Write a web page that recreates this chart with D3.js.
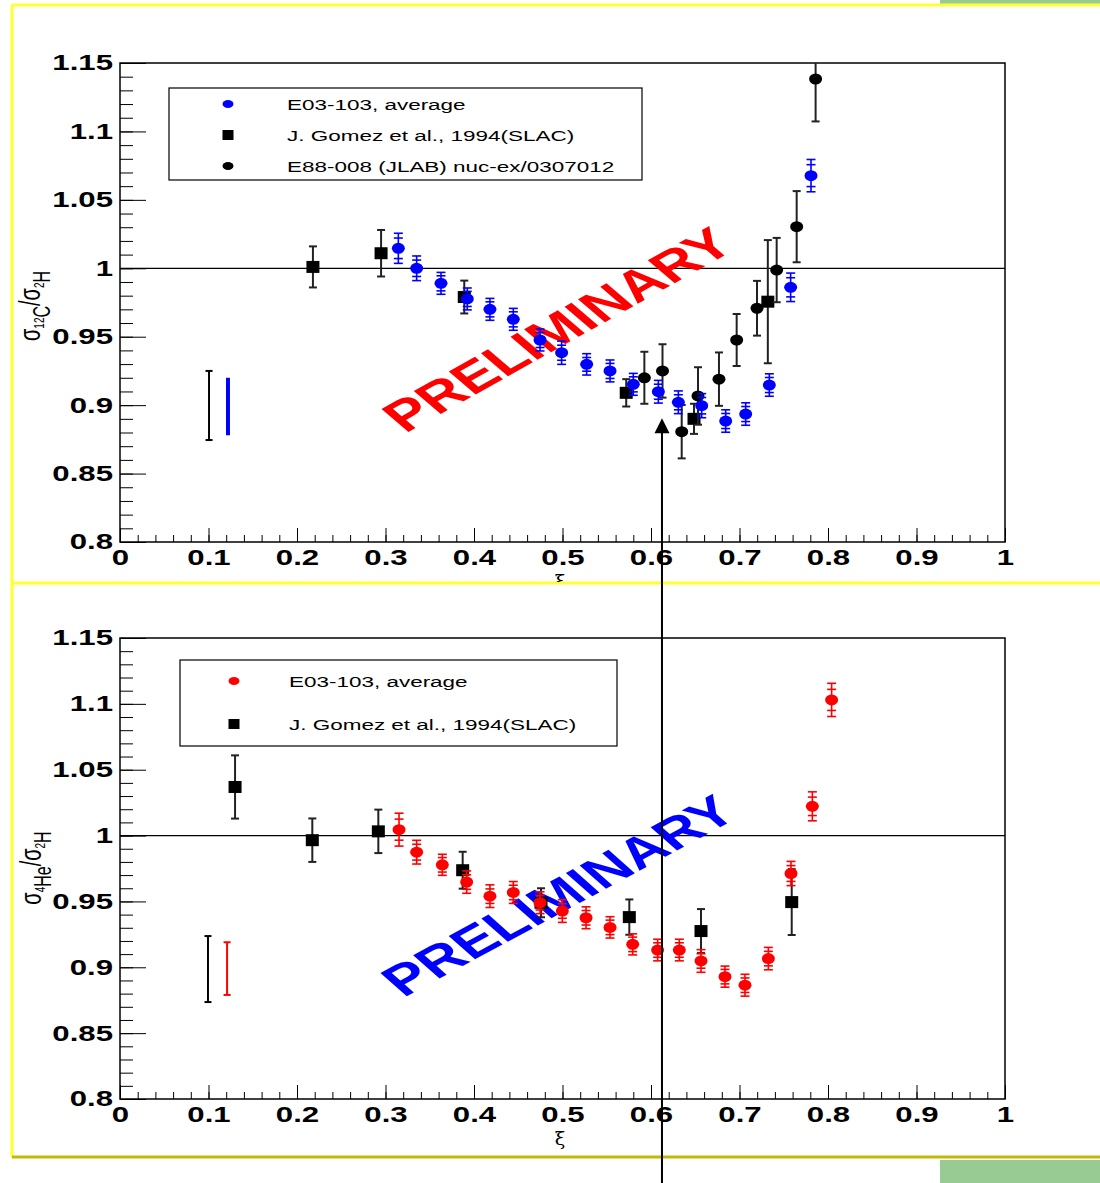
<!DOCTYPE html>
<html><head><meta charset="utf-8">
<script src="https://cdn.jsdelivr.net/npm/d3@7"></script>
<style>html,body{margin:0;padding:0;background:#fff}svg{display:block}</style>
</head><body><svg id="c" width="1100" height="1183"></svg>
<script>
// ---------------- DATA ----------------
const xTicks = [0, 0.1, 0.2, 0.3, 0.4, 0.5, 0.6, 0.7, 0.8, 0.9, 1];
const yTicks = [0.8, 0.85, 0.9, 0.95, 1, 1.05, 1.1, 1.15];

// Top panel: 12C / 2H
const cAvgX    = [0.3145,0.3352,0.3627,0.3924,0.4180,0.4444,0.4746,0.4990,0.5273,0.5537,0.5800,0.6083,0.6309,0.6573,0.6844,0.7070,0.7337,0.7578,0.7808];
const cAvgY    = [1.0146,1.0000,0.9890,0.9776,0.9700,0.9627,0.9476,0.9383,0.9298,0.9250,0.9152,0.9098,0.9021,0.8996,0.8884,0.8935,0.9147,0.9861,1.0677];
const cAvgETot = [0.011,0.009,0.008,0.008,0.008,0.008,0.008,0.0085,0.0078,0.008,0.008,0.0083,0.0083,0.0088,0.0082,0.0082,0.0082,0.0104,0.0118];
const cAvgEStat= [0.0075,0.006,0.0055,0.0055,0.0055,0.0055,0.0055,0.0055,0.005,0.0055,0.0055,0.0055,0.0055,0.006,0.0055,0.0055,0.0055,0.007,0.008];

const cSlacX = [0.2180,0.2950,0.3890,0.5720,0.6486,0.7320];
const cSlacY = [1.0010,1.0110,0.9790,0.9090,0.8900,0.9756];
const cSlacE = [0.015,0.017,0.012,0.010,0.011,0.045];

const cJlabX = [0.5925,0.6130,0.6347,0.6531,0.6768,0.6968,0.7198,0.7420,0.7646,0.7860];
const cJlabY = [0.9200,0.9250,0.8806,0.9067,0.9190,0.9476,0.9708,0.9987,1.0304,1.1383];
const cJlabE = [0.019,0.0195,0.0195,0.021,0.0195,0.019,0.020,0.0235,0.026,0.031];

// Bottom panel: 4He / 2H
const heAvgX    = [0.3153,0.3352,0.3642,0.3917,0.4180,0.4444,0.4746,0.4998,0.5266,0.5537,0.5793,0.6075,0.6320,0.6565,0.6836,0.7062,0.7326,0.7582,0.7823,0.8041];
const heAvgY    = [1.0045,0.9874,0.9778,0.9647,0.9540,0.9568,0.9490,0.9427,0.9376,0.9303,0.9174,0.9131,0.9131,0.9048,0.8929,0.8864,0.9066,0.9712,1.0222,1.1030];
const heAvgETot = [0.0125,0.009,0.008,0.0085,0.0086,0.0083,0.0083,0.0086,0.0083,0.0081,0.008,0.0082,0.0082,0.0086,0.008,0.0083,0.0085,0.0092,0.011,0.0126];
const heAvgEStat= [0.008,0.006,0.0055,0.0055,0.0055,0.0055,0.0055,0.0055,0.0055,0.0055,0.0055,0.0055,0.0055,0.0055,0.0055,0.0055,0.0055,0.006,0.007,0.008];

const heSlacX = [0.1300,0.2173,0.2919,0.3872,0.4757,0.5755,0.6565,0.7590];
const heSlacY = [1.0369,0.9965,1.0032,0.9737,0.9490,0.9381,0.9275,0.9495];
const heSlacE = [0.024,0.0165,0.0165,0.014,0.011,0.0134,0.0167,0.025];

// normalisation-uncertainty bars at left [x, low, high]
const sysTopBlack = [0.1006, 0.8745, 0.925];
const sysTopBlue  = [0.1220, 0.878, 0.920];
const sysBotBlack = [0.0994, 0.8736, 0.9237];
const sysBotRed   = [0.1210, 0.879, 0.919];

const legendTop = ["E03-103, average", "J. Gomez et al., 1994(SLAC)", "E88-008 (JLAB) nuc-ex/0307012"];
const legendBot = ["E03-103, average", "J. Gomez et al., 1994(SLAC)"];

const arrowXi = 0.6124, arrowTipY = 0.8905;

// ---------------- DRAW ----------------
const SX = 1.45; // horizontal stretch of the original picture
const FONT = "'Liberation Sans', Arial, Helvetica, sans-serif";
const svg = d3.select("#c");
svg.append("rect").attr("width",1100).attr("height",1183).attr("fill","#fff");

// page decorations
svg.append("rect").attr("x",940).attr("y",0).attr("width",160).attr("height",4).attr("fill","#98cb94");
svg.append("rect").attr("x",940).attr("y",1160).attr("width",160).attr("height",23).attr("fill","#98cb94");
const deco = [[12,5,1100,5,"#ffff33"],[12,583,1100,583,"#ffff33"],[12,5,12,1157,"#ffff33"],[12,1157,1100,1157,"#c2ba00"]];
deco.forEach(d=>svg.append("line").attr("x1",d[0]).attr("y1",d[1]).attr("x2",d[2]).attr("y2",d[3]).attr("stroke",d[4]).attr("stroke-width",3));

const x = d3.scaleLinear().domain([0,1]).range([120,1005]);
const yTop = d3.scaleLinear().domain([0.8,1.15]).range([542,63]);
const yBot = d3.scaleLinear().domain([0.8,1.15]).range([1099,638]);

const defs = svg.append("defs");
defs.append("clipPath").attr("id","clipTop").append("rect").attr("x",0).attr("y",0).attr("width",1100).attr("height",582);
defs.append("clipPath").attr("id","plotTop").append("rect").attr("x",120).attr("y",63).attr("width",885).attr("height",479);
defs.append("clipPath").attr("id","plotBot").append("rect").attr("x",120).attr("y",638).attr("width",885).attr("height",461);

function fmt(d){ return String(+d.toFixed(2)); }

function stretch(sel){
  sel.each(function(){
    const t = d3.select(this);
    const xx = +t.attr("x") || 0;
    t.attr("x",0).attr("transform",`translate(${xx},0) scale(${SX},1)`);
  });
}

function axes(g, y, axisY){
  g.append("g").attr("transform","translate(120,0)")
    .call(d3.axisLeft(y).tickValues(y.ticks(35)).tickSize(-13).tickFormat(""))
    .call(s=>s.select(".domain").remove());
  const ya = g.append("g").attr("transform","translate(120,0)")
    .call(d3.axisLeft(y).tickValues(yTicks).tickSize(-26).tickPadding(7).tickFormat(fmt))
    .call(s=>s.select(".domain").remove());
  ya.selectAll("text").attr("font-family",FONT).attr("font-weight","bold").attr("font-size",21.5).attr("fill","#000").call(stretch);
  g.append("g").attr("transform",`translate(0,${axisY})`)
    .call(d3.axisBottom(x).tickValues(x.ticks(50)).tickSize(-7).tickFormat(""))
    .call(s=>s.select(".domain").remove());
  const xa = g.append("g").attr("transform",`translate(0,${axisY})`)
    .call(d3.axisBottom(x).tickValues(xTicks).tickSize(-14).tickPadding(8).tickFormat(fmt))
    .call(s=>s.select(".domain").remove());
  xa.selectAll("text").attr("font-family",FONT).attr("font-weight","bold").attr("font-size",21.5).attr("fill","#000").call(stretch);
  g.selectAll(".tick line").attr("stroke","#000");
  const [y0,y1] = y.range();
  g.append("rect").attr("x",120).attr("y",y1).attr("width",885).attr("height",y0-y1)
    .attr("fill","none").attr("stroke","#000").attr("stroke-width",1.5);
  g.append("text").attr("x",560).attr("y",axisY+46).attr("text-anchor","middle")
    .attr("font-family","'DejaVu Serif', serif").attr("font-size",19).text("ξ");
}

function yTitle(g, cx, cy, sup, el){
  const t = g.append("text").attr("transform",`translate(${cx},${cy}) scale(${SX},1) rotate(-90)`)
    .attr("text-anchor","middle").attr("font-family",FONT).attr("font-size",20).attr("fill","#000");
  t.append("tspan").text("σ");
  t.append("tspan").attr("font-size",10).attr("dy",3).text(sup);
  t.append("tspan").attr("font-size",16).attr("dy",4).text(el);
  t.append("tspan").attr("dy",-7).text("/");
  t.append("tspan").text("σ");
  t.append("tspan").attr("font-size",10).attr("dy",3).text("2");
  t.append("tspan").attr("font-size",16).attr("dy",4).text("H");
}

function prelim(g, cx, cy, color, ang){
  g.append("text").attr("transform",`translate(${cx},${cy}) scale(${SX},1) rotate(${ang})`)
    .attr("text-anchor","middle").attr("dy","0.36em")
    .attr("font-family",FONT).attr("font-weight","bold").attr("font-size",43)
    .attr("fill",color).text("PRELIMINARY");
}

function sysBar(g, y, s, color, w, caps){
  g.append("line").attr("x1",x(s[0])).attr("x2",x(s[0])).attr("y1",y(s[1])).attr("y2",y(s[2]))
    .attr("stroke",color).attr("stroke-width",w);
  if(caps){
    [s[1],s[2]].forEach(v=>g.append("line").attr("x1",x(s[0])-3.5).attr("x2",x(s[0])+3.5)
      .attr("y1",y(v)).attr("y2",y(v)).attr("stroke",color).attr("stroke-width",2));
  }
}

function blackSeries(g, y, xs, ys, es, shape){
  const data = xs.map((v,i)=>({x:v,y:ys[i],e:es[i]}));
  const gg = g.append("g");
  gg.selectAll("line.eb").data(data).join("line").attr("class","eb")
    .attr("x1",d=>x(d.x)).attr("x2",d=>x(d.x)).attr("y1",d=>y(d.y-d.e)).attr("y2",d=>y(d.y+d.e))
    .attr("stroke","#222").attr("stroke-width",2);
  data.forEach(d=>[d.y-d.e,d.y+d.e].forEach(v=>gg.append("line")
    .attr("x1",x(d.x)-4).attr("x2",x(d.x)+4).attr("y1",y(v)).attr("y2",y(v))
    .attr("stroke","#222").attr("stroke-width",2)));
  if(shape==="square"){
    gg.selectAll("rect.m").data(data).join("rect").attr("class","m")
      .attr("x",d=>x(d.x)-6.5).attr("y",d=>y(d.y)-6).attr("width",13).attr("height",12).attr("fill","#000");
  } else {
    gg.selectAll("ellipse.m").data(data).join("ellipse").attr("class","m")
      .attr("cx",d=>x(d.x)).attr("cy",d=>y(d.y)).attr("rx",6.5).attr("ry",5.5).attr("fill","#000");
  }
}

function colorSeries(g, y, xs, ys, et, es, color){
  const data = xs.map((v,i)=>({x:v,y:ys[i],t:et[i],s:es[i]}));
  const gg = g.append("g");
  gg.selectAll("line.eb").data(data).join("line").attr("class","eb")
    .attr("x1",d=>x(d.x)).attr("x2",d=>x(d.x)).attr("y1",d=>y(d.y-d.t)).attr("y2",d=>y(d.y+d.t))
    .attr("stroke",color).attr("stroke-width",1.6);
  data.forEach(d=>[d.y-d.t,d.y+d.t,d.y-d.s,d.y+d.s].forEach(v=>gg.append("line")
    .attr("x1",x(d.x)-4.5).attr("x2",x(d.x)+4.5).attr("y1",y(v)).attr("y2",y(v))
    .attr("stroke",color).attr("stroke-width",1.6)));
  gg.selectAll("ellipse.m").data(data).join("ellipse").attr("class","m")
    .attr("cx",d=>x(d.x)).attr("cy",d=>y(d.y)).attr("rx",6.5).attr("ry",5.5).attr("fill",color);
}

function legend(g, bx, by, bw, bh, rows, items, mx, tx){
  g.append("rect").attr("x",bx).attr("y",by).attr("width",bw).attr("height",bh)
    .attr("fill","#fff").attr("stroke","#000").attr("stroke-width",1.2);
  items.forEach((it,i)=>{
    const yy = rows[i];
    if(it.m==="dot") g.append("ellipse").attr("cx",mx).attr("cy",yy).attr("rx",5.5).attr("ry",4).attr("fill",it.c);
    else if(it.m==="square") g.append("rect").attr("x",mx-5.5).attr("y",yy-5).attr("width",11).attr("height",10).attr("fill",it.c);
    g.append("text").attr("x",tx).attr("y",yy).attr("dy","0.36em").attr("font-family",FONT)
      .attr("font-size",15.5).attr("fill","#000").text(it.t).call(stretch);
  });
}

// ----- top panel -----
const topG = svg.append("g").attr("clip-path","url(#clipTop)");
axes(topG, yTop, 542);
topG.append("line").attr("x1",x(0)).attr("x2",x(1)).attr("y1",yTop(1)).attr("y2",yTop(1)).attr("stroke","#000").attr("stroke-width",1.2);
yTitle(topG, 40, 306, "12", "C");
prelim(topG, 557, 329, "#ff0000", -39);
sysBar(topG, yTop, sysTopBlack, "#000", 2, true);
sysBar(topG, yTop, sysTopBlue, "#0000ff", 4, false);
const topData = topG.append("g").attr("clip-path","url(#plotTop)");
blackSeries(topData, yTop, cSlacX, cSlacY, cSlacE, "square");
blackSeries(topData, yTop, cJlabX, cJlabY, cJlabE, "circle");
colorSeries(topData, yTop, cAvgX, cAvgY, cAvgETot, cAvgEStat, "#0000ff");
legend(topG, 169, 88, 473, 92, [104,135,166],
  [{m:"dot",c:"#0000ff",t:legendTop[0]},{m:"square",c:"#000",t:legendTop[1]},{m:"dot",c:"#000",t:legendTop[2]}], 228, 287);

// ----- bottom panel -----
const botG = svg.append("g");
axes(botG, yBot, 1099);
botG.append("line").attr("x1",x(0)).attr("x2",x(1)).attr("y1",yBot(1)).attr("y2",yBot(1)).attr("stroke","#000").attr("stroke-width",1.2);
yTitle(botG, 41, 868, "4", "He");
prelim(botG, 558, 895, "#0000ff", -38);
sysBar(botG, yBot, sysBotBlack, "#000", 2, true);
sysBar(botG, yBot, sysBotRed, "#ff0000", 2, true);
const botData = botG.append("g").attr("clip-path","url(#plotBot)");
blackSeries(botData, yBot, heSlacX, heSlacY, heSlacE, "square");
colorSeries(botData, yBot, heAvgX, heAvgY, heAvgETot, heAvgEStat, "#ff0000");
legend(botG, 180, 660, 437, 86, [681,724],
  [{m:"dot",c:"#ff0000",t:legendBot[0]},{m:"square",c:"#000",t:legendBot[1]}], 234, 289);

// ----- arrow -----
const ax = x(arrowXi), ay = yTop(arrowTipY);
svg.append("line").attr("x1",ax).attr("x2",ax).attr("y1",ay+12).attr("y2",1183).attr("stroke","#000").attr("stroke-width",2);
svg.append("path").attr("d",`M${ax},${ay} L${ax-7.5},${ay+15} L${ax+7.5},${ay+15} Z`).attr("fill","#000");
</script></body></html>
